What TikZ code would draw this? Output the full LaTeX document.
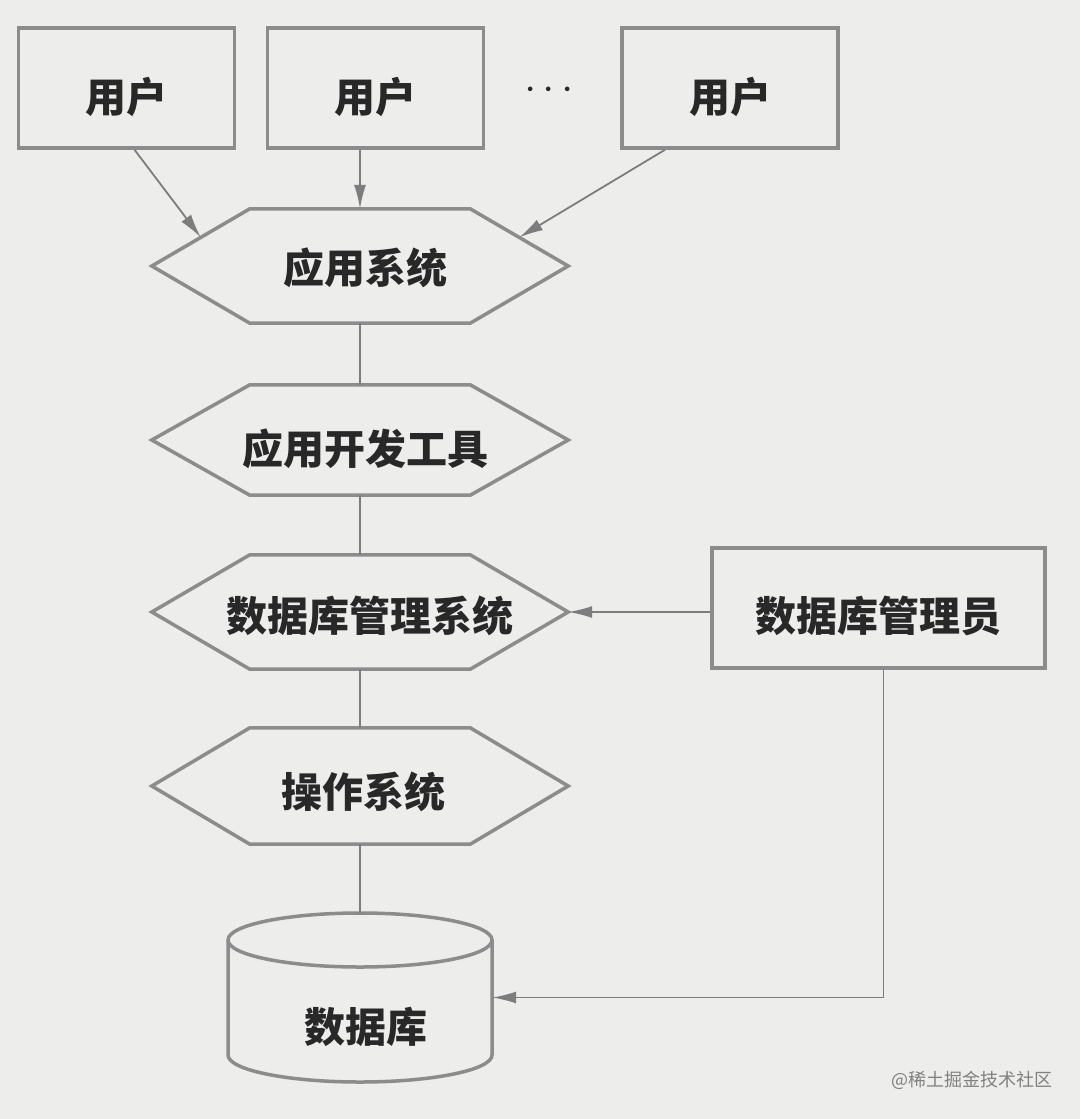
\documentclass[tikz,border=0pt]{standalone}
\usepackage{fontspec}
\newfontfamily\cjk{Noto Sans CJK SC}
\usetikzlibrary{arrows.meta,calc}
\definecolor{paper}{RGB}{237,237,235}
\definecolor{edge}{RGB}{140,140,140}
\definecolor{wire}{RGB}{125,125,125}
\definecolor{ink}{RGB}{40,40,40}
\begin{document}
\begin{tikzpicture}[x=1pt,y=-1pt,
  lbl/.style={text=ink,font=\cjk\bfseries\fontsize{41}{44}\selectfont,inner sep=0pt},
  userbox/.style={draw=edge,line width=3.5pt,fill=paper,minimum width=216pt,minimum height=120pt,inner sep=0pt},
  hexnode/.style={minimum width=220pt,minimum height=114pt,inner sep=0pt},
  hexline/.style={draw=edge,line width=3.5pt,line join=miter},
  wireline/.style={draw=wire,line width=1.8pt},
  arr/.style={wireline,-{Latex[length=24pt,width=12pt]}},
]
\fill[paper] (0,0) rectangle (1080,1119);
\useasboundingbox (0,0) rectangle (1080,1119);

% users
\node[userbox,label={[lbl,yshift=-9pt]center:用户}] (u1) at (126.5,88) {};
\node[userbox,label={[lbl,yshift=-9pt]center:用户}] (u2) at (375.5,88) {};
\node[userbox,label={[lbl,yshift=-9pt]center:用户}] (u3) at (730,88) {};
\node[text=ink,font=\fontsize{56}{56}\selectfont,inner sep=0pt] (dots) at (549,98) {·\kern-22pt·\kern-22pt·};

% hexagons
\node[hexnode,label={[lbl,xshift=5pt,yshift=-2pt]center:应用系统}] (h1) at (360,266) {};
\node[hexnode,minimum height=110pt,label={[lbl,xshift=5pt,yshift=-9pt]center:应用开发工具}] (h2) at (360,440) {};
\node[hexnode,label={[lbl,xshift=10pt,yshift=-4pt]center:数据库管理系统}] (h3) at (360,612) {};
\node[hexnode,minimum height=116pt,label={[lbl,xshift=3pt,yshift=-6pt]center:操作系统}] (h4) at (360,786) {};
\foreach \h in {h1,h2,h3,h4}{
  \draw[hexline] (\h.north west) -- (\h.north east) -- ([xshift=98pt]\h.east)
     -- (\h.south east) -- (\h.south west) -- ([xshift=-98pt]\h.west) -- cycle;
  \coordinate (\h e) at ([xshift=98pt]\h.east);
  \coordinate (\h w) at ([xshift=-98pt]\h.west);
}
\coordinate (h1ul) at ($(h1.north west)!0.5!(h1w)$);
\coordinate (h1ur) at ($(h1.north east)!0.5!(h1e)$);

% DBA
\node[userbox,minimum width=333pt,label={[lbl,yshift=-8pt]center:数据库管理员}] (dba) at (878.5,608) {};

% database cylinder
\node[minimum width=264pt,minimum height=169pt,inner sep=0pt] (db) at (360,997.5) {};
\draw[draw=edge,line width=3.5pt,fill=paper]
  (228,940) -- (228,1055) arc[start angle=180,end angle=0,x radius=132,y radius=27]
  -- (492,940) arc[start angle=0,end angle=-180,x radius=132,y radius=27] -- cycle;
\draw[draw=edge,line width=3.5pt] (228,940) arc[start angle=180,end angle=0,x radius=132,y radius=27];
\node[lbl] (dblabel) at (366,1027) {数据库};

% connectors
\draw[arr] ([xshift=8pt]u1.south) -- (h1ul);
\draw[arr] (u2.south -| h1.north) -- (h1.north);
\draw[arr] ([xshift=-65pt]u3.south) -- (h1ur);
\draw[wireline] (h1.south) -- (h2.north);
\draw[wireline] (h2.south) -- (h3.north);
\draw[wireline] (h3.south) -- (h4.north);
\draw[wireline] (h4.south) -- (db.north);
\draw[arr] (dba.west |- h3e) -- (h3e);
\draw[arr] ([xshift=5pt]dba.south) |- (db.east);

% watermark
\node[text=gray,font=\cjk\fontsize{18}{18}\selectfont] (wm) at (972,1080) {@稀土掘金技术社区};
\end{tikzpicture}
\end{document}
